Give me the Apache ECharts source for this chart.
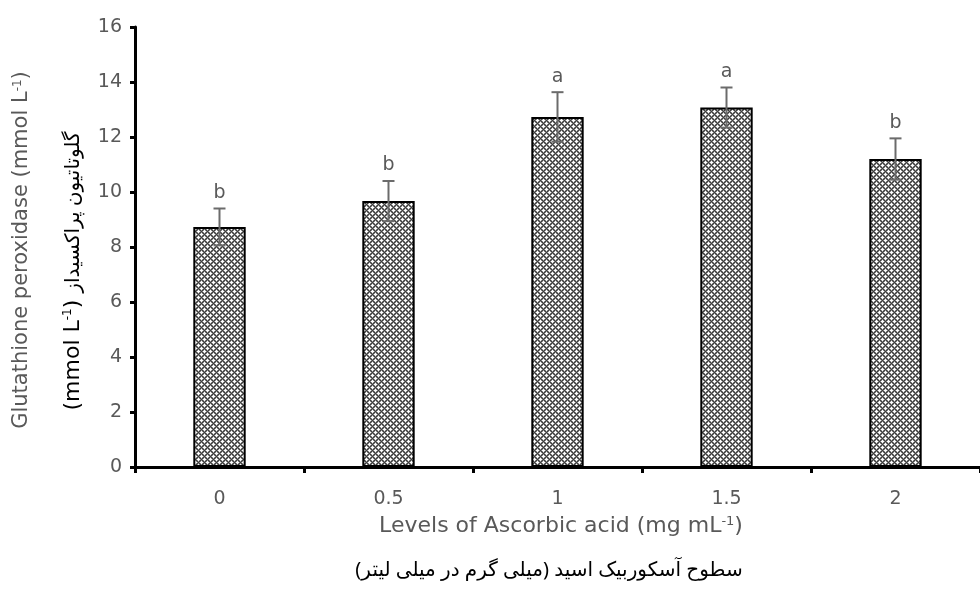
<!DOCTYPE html>
<html>
<head>
<meta charset="utf-8">
<script src="https://cdn.jsdelivr.net/npm/echarts@6/dist/echarts.min.js"></script>
<style>html,body{margin:0;padding:0;background:#fff}#c{width:980px;height:590px}</style>
</head>
<body>
<div id="c"></div>
<script>
const categories = ['0', '0.5', '1', '1.5', '2'];
const means = [8.73, 9.67, 12.73, 13.07, 11.2];
const errors = [0.67, 0.73, 0.9, 0.73, 0.75];
const letters = ['b', 'b', 'a', 'a', 'b'];
const yTicks = [0, 2, 4, 6, 8, 10, 12, 14, 16];

function makePattern() {
  const n = 6;
  const cv = document.createElement('canvas');
  cv.width = n; cv.height = n;
  const ctx = cv.getContext('2d');
  const img = ctx.createImageData(n, n);
  for (let y = 0; y < n; y++) {
    for (let x = 0; x < n; x++) {
      const d1 = (x + y) % n, d2 = (x - y + n) % n;
      let v;
      if (d1 === 0 || d2 === 0) v = 60;
      else if ((d1 === 3 && d2 === 3) || ((d1 === 2 || d1 === 4) && (d2 === 2 || d2 === 4))) v = 255;
      else v = 135;
      const i = (y * n + x) * 4;
      img.data[i] = v; img.data[i + 1] = v; img.data[i + 2] = v; img.data[i + 3] = 255;
    }
  }
  ctx.putImageData(img, 0, 0);
  return cv;
}

const chart = echarts.init(document.getElementById('c'), null, { renderer: 'canvas' });
const FONT = '"DejaVu Sans"';
const GREY = '#595959';

const errData = means.map((m, i) => [i, m - errors[i], m + errors[i]]);

chart.setOption({
  animation: false,
  backgroundColor: '#fff',
  grid: { left: 135, top: 27, width: 849, height: 440, containLabel: false },
  xAxis: {
    type: 'category',
    data: categories,
    boundaryGap: true,
    axisLine: { show: true, lineStyle: { color: '#000', width: 3 } },
    axisTick: { show: true, alignWithLabel: false, length: 6, lineStyle: { color: '#000', width: 3 } },
    axisLabel: { color: GREY, fontSize: 19, fontFamily: FONT, margin: 23 },
    splitLine: { show: false }
  },
  yAxis: {
    type: 'value',
    min: yTicks[0],
    max: yTicks[yTicks.length - 1],
    interval: 2,
    axisLine: { show: true, lineStyle: { color: '#000', width: 3 } },
    axisTick: { show: true, length: 5, lineStyle: { color: '#000', width: 3 } },
    axisLabel: { color: GREY, fontSize: 19, fontFamily: FONT, margin: 13 },
    splitLine: { show: false }
  },
  series: [
    {
      type: 'bar',
      data: means,
      barWidth: '31%',
      itemStyle: {
        color: { image: makePattern(), repeat: 'repeat' },
        borderColor: '#000',
        borderWidth: 2
      },
      z: 2
    },
    {
      type: 'custom',
      data: errData,
      z: 5,
      renderItem: function (params, api) {
        const i = api.value(0);
        const lo = api.coord([i, api.value(1)]);
        const hi = api.coord([i, api.value(2)]);
        const hw = 6;
        const st = { stroke: '#6b6b6b', lineWidth: 2 };
        return {
          type: 'group',
          children: [
            { type: 'line', shape: { x1: hi[0], y1: hi[1], x2: lo[0], y2: lo[1] }, style: st },
            { type: 'line', shape: { x1: hi[0] - hw, y1: hi[1], x2: hi[0] + hw, y2: hi[1] }, style: st },
            { type: 'line', shape: { x1: lo[0] - hw, y1: lo[1], x2: lo[0] + hw, y2: lo[1] }, style: st },
            { type: 'text', x: hi[0], y: hi[1] - 6, style: { text: letters[params.dataIndex], fill: GREY, fontSize: 19, fontFamily: FONT, align: 'center', verticalAlign: 'bottom' } }
          ]
        };
      }
    }
  ],
  graphic: [
    {
      type: 'text', x: 22, y: 250, rotation: Math.PI / 2,
      style: {
        text: 'Glutathione peroxidase (mmol L{sup|-1})',
        fill: GREY, fontSize: 21, fontFamily: FONT, align: 'center', verticalAlign: 'middle',
        rich: { sup: { fontSize: 12, fontFamily: FONT, fill: GREY, verticalAlign: 'top' } }
      }
    },
    {
      type: 'text', x: 73, y: 271, rotation: Math.PI / 2,
      style: {
        text: '(mmol L{sup|-1}) {fa|گلوتاتیون پراکسیداز}',
        fill: '#000', fontSize: 22, fontFamily: FONT, align: 'center', verticalAlign: 'middle',
        rich: {
          sup: { fontSize: 12, fontFamily: FONT, fill: '#000', verticalAlign: 'top' },
          fa: { fontSize: 20, fontFamily: '"Noto Sans", "DejaVu Sans"', fill: '#000' }
        }
      }
    },
    {
      type: 'text', x: 561, y: 526,
      style: {
        text: 'Levels of Ascorbic acid (mg mL{sup|-1})',
        fill: GREY, fontSize: 22, fontFamily: FONT, align: 'center', verticalAlign: 'middle',
        rich: { sup: { fontSize: 13, fontFamily: FONT, fill: GREY, verticalAlign: 'top' } }
      }
    },
    {
      type: 'text', x: 549, y: 570,
      style: {
        text: 'سطوح آسکوربیک اسید (میلی گرم در میلی لیتر)',
        fill: '#000', fontSize: 20, fontFamily: '"Noto Sans", "DejaVu Sans"', align: 'center', verticalAlign: 'middle'
      }
    }
  ]
});
</script>
</body>
</html>
